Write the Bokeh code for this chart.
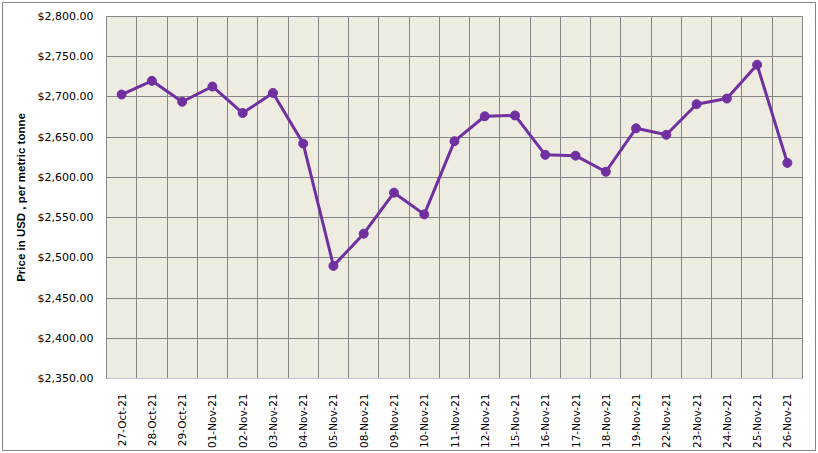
import math
from bokeh.plotting import figure
from bokeh.models import Range1d, FixedTicker, NumeralTickFormatter, InlineStyleSheet
from bokeh.embed import file_html
from bokeh.resources import INLINE

dates = ["27-Oct-21", "28-Oct-21", "29-Oct-21", "01-Nov-21", "02-Nov-21", "03-Nov-21",
         "04-Nov-21", "05-Nov-21", "08-Nov-21", "09-Nov-21", "10-Nov-21", "11-Nov-21",
         "12-Nov-21", "15-Nov-21", "16-Nov-21", "17-Nov-21", "18-Nov-21", "19-Nov-21",
         "22-Nov-21", "23-Nov-21", "24-Nov-21", "25-Nov-21", "26-Nov-21"]
prices = [2703, 2720, 2694, 2713, 2680, 2705, 2642, 2490, 2530, 2581, 2554, 2645,
          2676, 2677, 2628, 2627, 2607, 2661, 2653, 2691, 2698, 2740, 2618]
y_ticks = [2350, 2400, 2450, 2500, 2550, 2600, 2650, 2700, 2750, 2800]
y_label = "Price in USD , per metric tonne"

xs = list(range(len(dates)))

p = figure(width=818, height=453, output_backend="svg", toolbar_location=None,
           x_range=Range1d(-0.5, len(dates) - 0.5),
           y_range=Range1d(y_ticks[0], y_ticks[-1]),
           min_border_left=106, min_border_right=16, min_border_top=16, min_border_bottom=75)
p.stylesheets = [InlineStyleSheet(css="""
:host { position: relative; }
:host::after { content: ""; position: absolute; left: 2px; top: 2px; right: 2px; bottom: 2px;
  border: 1px solid #878787; pointer-events: none; z-index: 1000; }
""")]

p.background_fill_color = "#EEECE1"
p.border_fill_color = "white"
p.outline_line_color = "#868686"
p.outline_line_width = 1

# grids
p.xgrid.ticker = FixedTicker(ticks=[i + 0.5 for i in range(-1, len(dates))])
p.ygrid.ticker = FixedTicker(ticks=y_ticks)
for g in (p.xgrid, p.ygrid):
    g.grid_line_color = "#868686"
    g.grid_line_width = 1
    g.grid_line_alpha = 1

# x axis
p.xaxis.ticker = FixedTicker(ticks=xs)
p.xaxis.major_label_overrides = {i: d for i, d in enumerate(dates)}
p.xaxis.major_label_orientation = math.pi / 2
p.xaxis.major_tick_line_color = None
p.xaxis.minor_tick_line_color = None
p.xaxis.major_label_standoff = 9
p.xaxis.axis_line_color = "#BCC6D8"
p.xaxis.major_label_text_font = "DejaVu Sans"
p.xaxis.major_label_text_font_size = "10.5px"
p.xaxis.major_label_text_color = "black"

# y axis
p.yaxis.ticker = FixedTicker(ticks=y_ticks)
p.yaxis.formatter = NumeralTickFormatter(format="$0,0.00")
p.yaxis.major_tick_line_color = None
p.yaxis.minor_tick_line_color = None
p.yaxis.major_label_standoff = 7
p.yaxis.axis_line_color = "#868686"
p.yaxis.major_label_text_font = "DejaVu Sans"
p.yaxis.major_label_text_font_size = "11px"
p.yaxis.major_label_text_color = "black"
p.yaxis.axis_label = y_label
p.yaxis.axis_label_text_font = "Liberation Sans"
p.yaxis.axis_label_text_font_style = "bold"
p.yaxis.axis_label_text_font_size = "11.5px"
p.yaxis.axis_label_text_color = "black"
p.yaxis.axis_label_standoff = 8

p.line(xs, prices, line_color="#7030A0", line_width=3)
p.scatter(xs, prices, size=9, fill_color="#7030A0", line_color="#7030A0")

open("out.html", "w").write(file_html(p, INLINE))
